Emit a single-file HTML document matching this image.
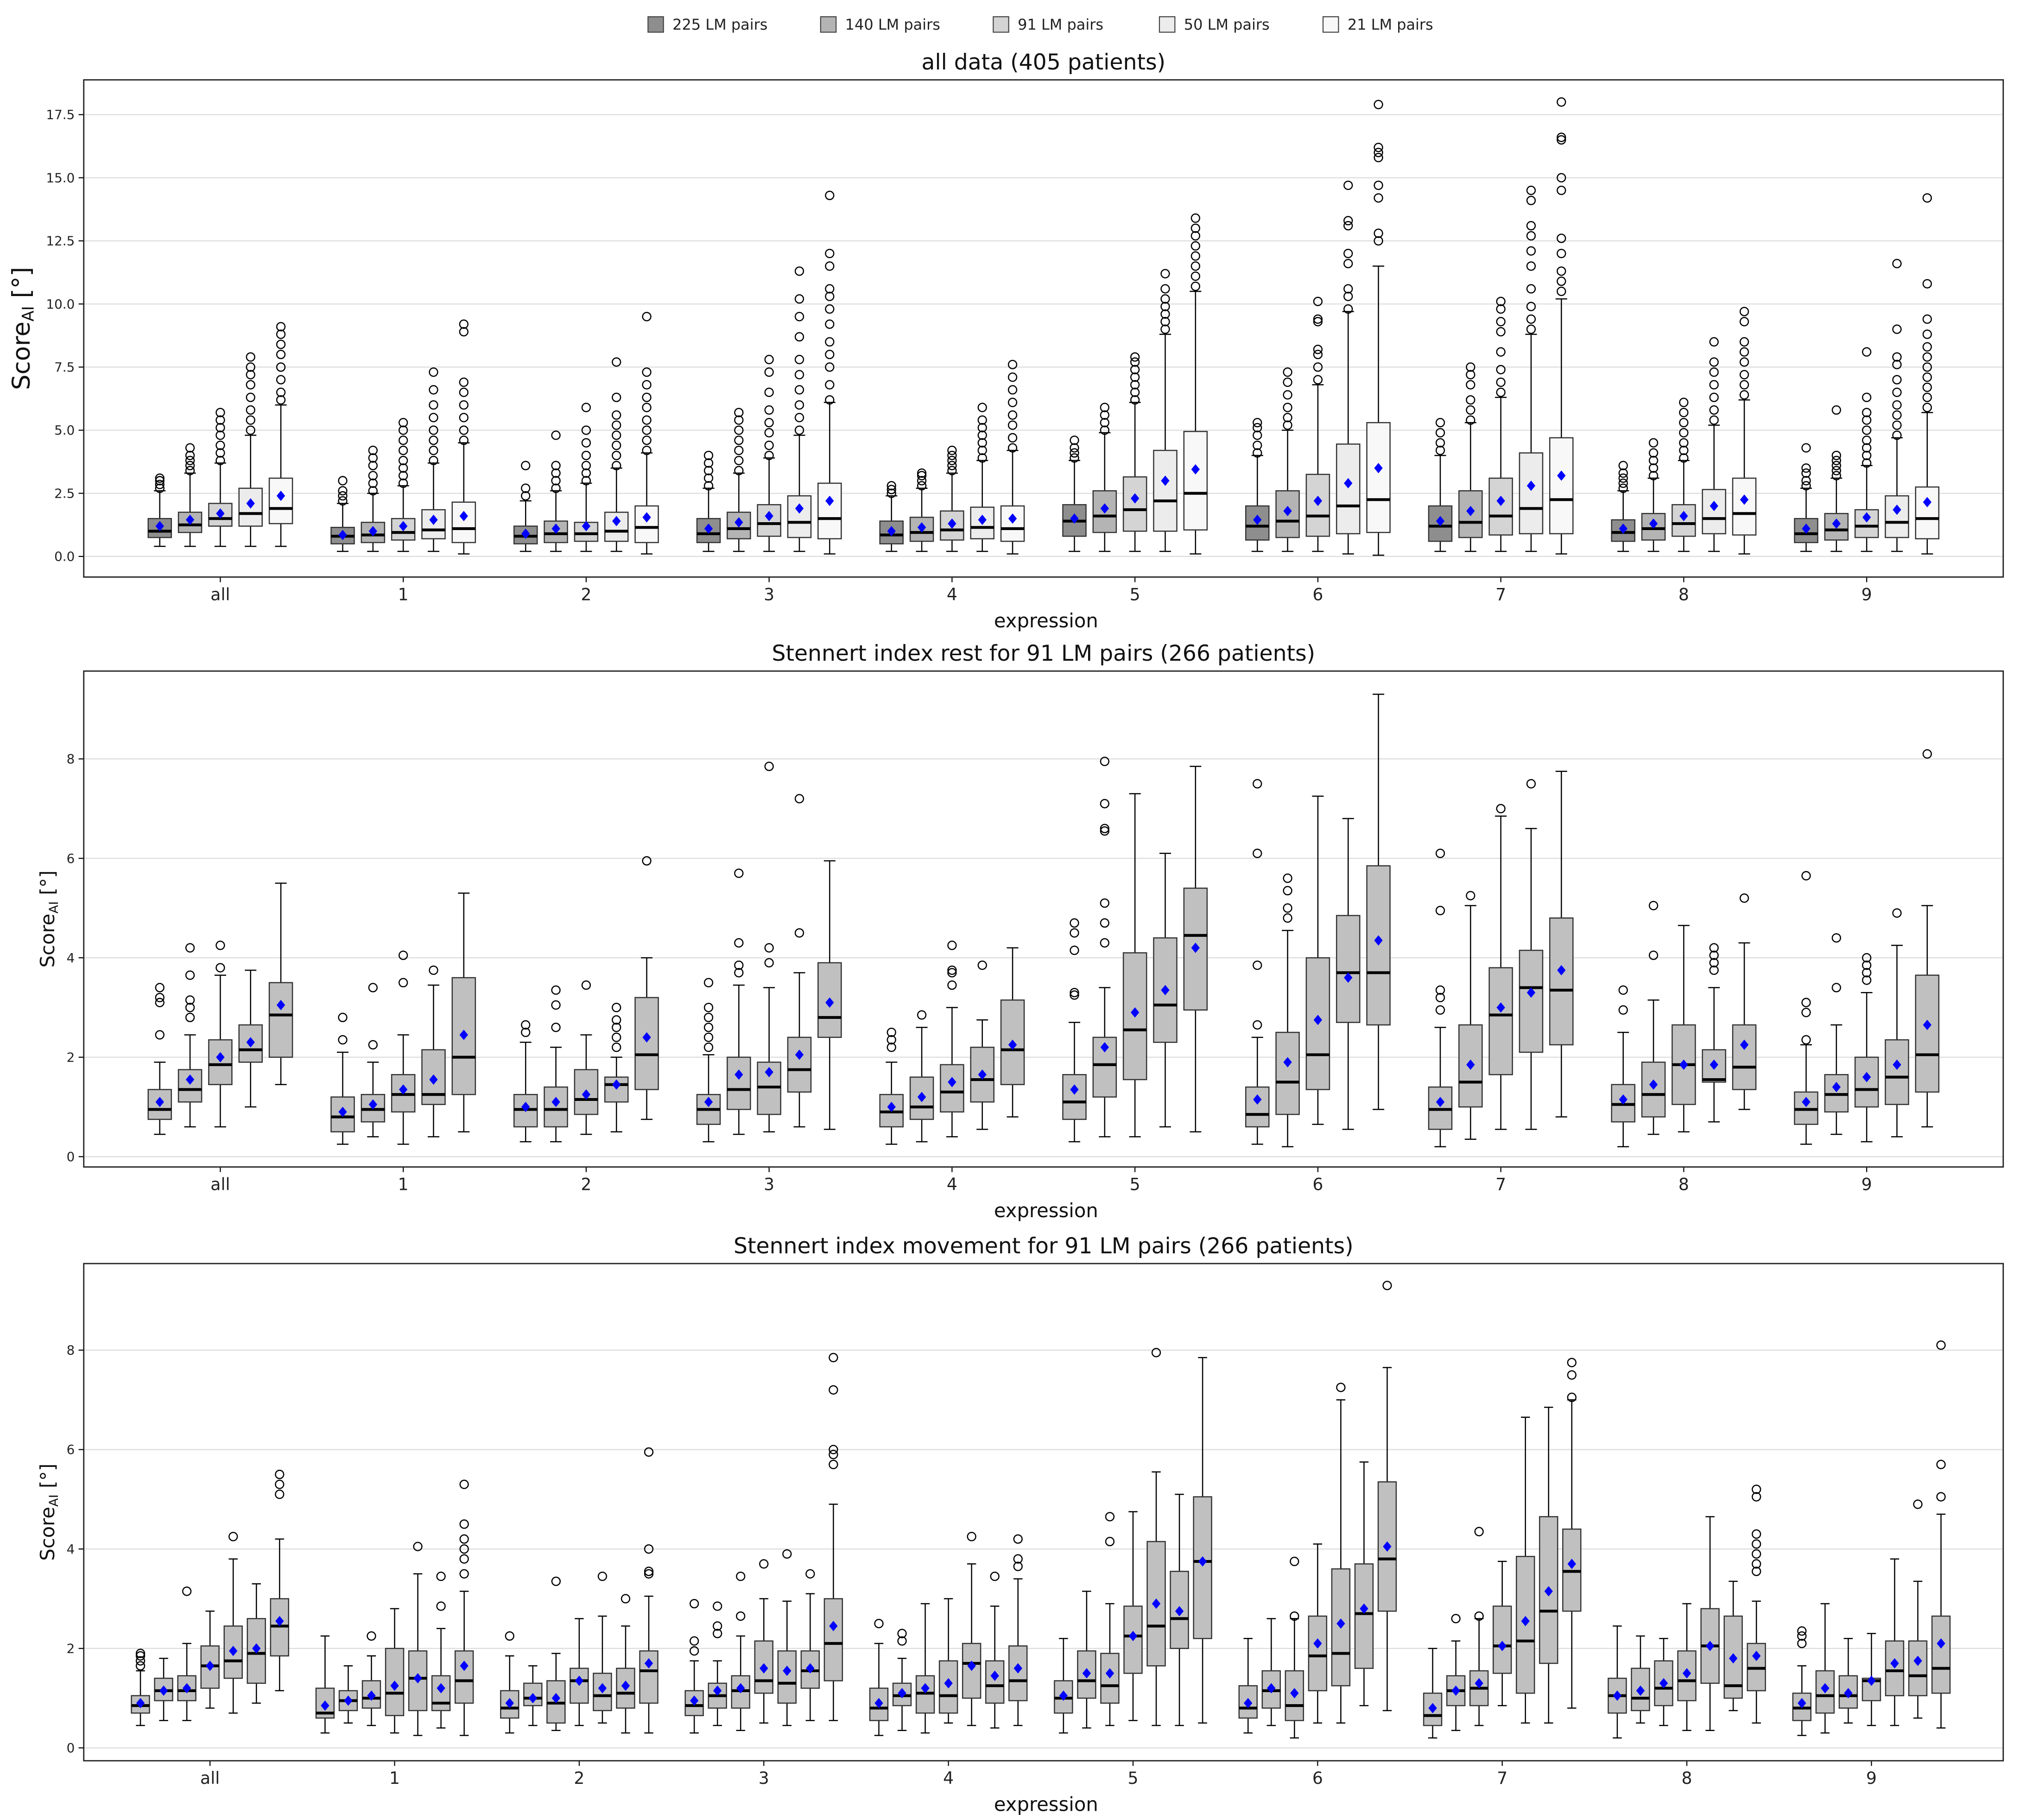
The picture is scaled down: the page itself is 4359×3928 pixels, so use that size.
<!DOCTYPE html>
<html><head><meta charset="utf-8"><title>Score AI boxplots</title>
<style>html,body{margin:0;padding:0;background:#fff}svg{display:block}text{font-family:"DejaVu Sans","Liberation Sans",sans-serif}</style>
</head><body>
<svg id="chart" xmlns="http://www.w3.org/2000/svg" width="4359" height="3928" viewBox="0 0 1568 1413">
<rect x="0" y="0" width="1568" height="1413" fill="#fff"/>
<g id="legend"></g>
<g id="p1"></g>
<g id="p2"></g>
<g id="p3"></g>
</svg>
<script>
const categories = ["all","1","2","3","4","5","6","7","8","9"];
const legendLabels = ["225 LM pairs","140 LM pairs","91 LM pairs","50 LM pairs","21 LM pairs"];
const p1Ticks = [0,2.5,5,7.5,10,12.5,15,17.5];
const p2Ticks = [0,2,4,6,8];
const p3Ticks = [0,2,4,6,8];

// Panel 1: [group][series] values
const p1Q1 = [[0.75,0.95,1.2,1.2,1.3],[0.5,0.55,0.65,0.7,0.55],[0.5,0.55,0.6,0.6,0.55],[0.55,0.7,0.8,0.75,0.7],[0.5,0.6,0.65,0.7,0.6],[0.8,0.95,1.0,1.0,1.05],[0.65,0.75,0.8,0.9,0.95],[0.6,0.75,0.85,0.9,0.9],[0.6,0.65,0.8,0.9,0.85],[0.55,0.65,0.75,0.75,0.7]];
const p1Med = [[1.0,1.25,1.5,1.7,1.9],[0.8,0.85,0.95,1.05,1.1],[0.8,0.9,0.9,1.0,1.15],[0.9,1.1,1.3,1.35,1.5],[0.85,0.95,1.05,1.15,1.1],[1.4,1.6,1.85,2.2,2.5],[1.2,1.4,1.6,2.0,2.25],[1.2,1.35,1.6,1.9,2.25],[0.95,1.1,1.3,1.5,1.7],[0.9,1.05,1.2,1.35,1.5]];
const p1Q3 = [[1.5,1.75,2.1,2.7,3.1],[1.15,1.35,1.5,1.85,2.15],[1.2,1.4,1.35,1.75,2.0],[1.5,1.75,2.05,2.4,2.9],[1.4,1.55,1.8,1.95,2.0],[2.05,2.6,3.15,4.2,4.95],[2.0,2.6,3.25,4.45,5.3],[2.0,2.6,3.1,4.1,4.7],[1.45,1.7,2.05,2.65,3.1],[1.5,1.7,1.85,2.4,2.75]];
const p1Lo = [[0.4,0.4,0.4,0.4,0.4],[0.2,0.2,0.2,0.2,0.1],[0.2,0.2,0.2,0.2,0.1],[0.2,0.2,0.2,0.2,0.1],[0.2,0.2,0.2,0.2,0.1],[0.2,0.2,0.2,0.2,0.1],[0.2,0.2,0.2,0.1,0.05],[0.2,0.2,0.2,0.2,0.1],[0.2,0.2,0.2,0.2,0.1],[0.2,0.2,0.2,0.2,0.1]];
const p1Hi = [[2.6,3.3,3.7,4.8,6.0],[2.1,2.5,2.8,3.7,4.5],[2.2,2.6,2.9,3.5,4.1],[2.7,3.3,3.9,4.8,6.1],[2.4,2.7,3.3,3.8,4.2],[3.8,4.9,6.1,8.8,10.5],[4.0,5.0,6.8,9.7,11.5],[4.0,5.3,6.3,8.8,10.2],[2.6,3.1,3.8,5.2,6.2],[2.7,3.1,3.6,4.7,5.7]];
const p1Mean = [[1.2,1.45,1.7,2.1,2.4],[0.85,1.0,1.2,1.45,1.6],[0.9,1.1,1.2,1.4,1.55],[1.1,1.35,1.6,1.9,2.2],[1.0,1.15,1.3,1.45,1.5],[1.5,1.9,2.3,3.0,3.45],[1.45,1.8,2.2,2.9,3.5],[1.4,1.8,2.2,2.8,3.2],[1.1,1.3,1.6,2.0,2.25],[1.1,1.3,1.55,1.85,2.15]];
const p1Out = [
 [[2.7,2.85,3.0,3.1],[3.4,3.6,3.8,4.0,4.3],[3.8,4.1,4.4,4.8,5.1,5.4,5.7],[5.0,5.4,5.8,6.3,6.8,7.2,7.5,7.9],[6.2,6.5,7.0,7.5,8.0,8.4,8.8,9.1]],
 [[2.2,2.4,2.6,3.0],[2.6,2.9,3.2,3.6,3.9,4.2],[2.9,3.2,3.5,3.8,4.2,4.6,5.0,5.3],[3.8,4.2,4.6,5.0,5.5,6.0,6.6,7.3],[4.6,5.0,5.5,6.0,6.5,6.9,8.9,9.2]],
 [[2.4,2.7,3.6],[2.7,3.0,3.3,3.6,4.8],[3.0,3.3,3.6,4.0,4.5,5.0,5.9],[3.6,4.0,4.4,4.8,5.2,5.6,6.3,7.7],[4.2,4.6,5.0,5.4,5.9,6.3,6.8,7.3,9.5]],
 [[2.8,3.1,3.4,3.7,4.0],[3.4,3.8,4.2,4.6,5.0,5.4,5.7],[4.0,4.4,4.9,5.3,5.8,6.5,7.3,7.8],[5.0,5.5,6.0,6.6,7.2,7.8,8.7,9.5,10.2,11.3],[6.2,6.8,7.5,8.0,8.5,9.2,9.8,10.3,10.6,11.5,12.0,14.3]],
 [[2.5,2.65,2.8],[2.8,3.0,3.2,3.3],[3.4,3.6,3.8,4.0,4.2],[3.9,4.2,4.5,4.8,5.1,5.4,5.9],[4.3,4.7,5.2,5.6,6.1,6.6,7.1,7.6]],
 [[3.9,4.1,4.3,4.6],[5.0,5.3,5.6,5.9],[6.2,6.5,6.8,7.1,7.4,7.7,7.9],[9.0,9.3,9.6,9.9,10.2,10.6,11.2],[10.7,11.1,11.5,11.9,12.3,12.7,13.0,13.4]],
 [[4.1,4.4,4.8,5.1,5.3],[5.2,5.5,5.9,6.4,6.9,7.3],[7.0,7.5,8.0,8.2,9.3,9.4,10.1],[9.8,10.3,10.6,11.6,12.0,13.1,13.3,14.7],[12.5,12.8,14.2,14.7,15.8,16.0,16.2,17.9]],
 [[4.2,4.5,4.9,5.3],[5.4,5.8,6.2,6.8,7.2,7.5],[6.5,6.9,7.4,8.1,8.9,9.3,9.8,10.1],[9.0,9.4,9.9,10.6,11.5,12.1,12.7,13.1,14.1,14.5],[10.5,10.9,11.3,12.0,12.6,14.5,15.0,16.5,16.6,18.0]],
 [[2.7,2.9,3.1,3.3,3.6],[3.2,3.5,3.8,4.1,4.5],[3.9,4.2,4.5,4.9,5.3,5.7,6.1],[5.4,5.8,6.3,6.8,7.3,7.7,8.5],[6.4,6.8,7.2,7.7,8.1,8.5,9.3,9.7]],
 [[2.8,3.0,3.3,3.5,4.3],[3.2,3.4,3.6,3.8,4.0,5.8],[3.7,4.0,4.3,4.6,5.0,5.4,5.7,6.3,8.1],[4.8,5.2,5.6,6.0,6.5,7.0,7.6,7.9,9.0,11.6],[5.9,6.3,6.7,7.1,7.5,7.9,8.3,8.8,9.4,10.8,14.2]]
];

// Panel 2
const p2Q1 = [[0.75,1.1,1.45,1.9,2.0],[0.5,0.7,0.9,1.05,1.25],[0.6,0.6,0.85,1.1,1.35],[0.65,0.95,0.85,1.3,2.4],[0.6,0.75,0.9,1.1,1.45],[0.75,1.2,1.55,2.3,2.95],[0.6,0.85,1.35,2.7,2.65],[0.55,1.0,1.65,2.1,2.25],[0.7,0.8,1.05,1.5,1.35],[0.65,0.9,1.0,1.05,1.3]];
const p2Med = [[0.95,1.35,1.85,2.15,2.85],[0.8,0.95,1.25,1.25,2.0],[0.95,0.95,1.15,1.45,2.05],[0.95,1.35,1.4,1.75,2.8],[0.9,1.0,1.3,1.55,2.15],[1.1,1.85,2.55,3.05,4.45],[0.85,1.5,2.05,3.7,3.7],[0.95,1.5,2.85,3.4,3.35],[1.05,1.25,1.85,1.55,1.8],[0.95,1.25,1.35,1.6,2.05]];
const p2Q3 = [[1.35,1.75,2.35,2.65,3.5],[1.2,1.25,1.65,2.15,3.6],[1.25,1.4,1.75,1.6,3.2],[1.25,2.0,1.9,2.4,3.9],[1.25,1.6,1.85,2.2,3.15],[1.65,2.4,4.1,4.4,5.4],[1.4,2.5,4.0,4.85,5.85],[1.4,2.65,3.8,4.15,4.8],[1.45,1.9,2.65,2.15,2.65],[1.3,1.65,2.0,2.35,3.65]];
const p2Lo = [[0.45,0.6,0.6,1.0,1.45],[0.25,0.4,0.25,0.4,0.5],[0.3,0.3,0.45,0.5,0.75],[0.3,0.45,0.5,0.6,0.55],[0.25,0.3,0.4,0.55,0.8],[0.3,0.4,0.4,0.6,0.5],[0.25,0.2,0.65,0.55,0.95],[0.2,0.35,0.55,0.55,0.8],[0.2,0.45,0.5,0.7,0.95],[0.25,0.45,0.3,0.4,0.6]];
const p2Hi = [[1.9,2.45,3.65,3.75,5.5],[2.1,1.9,2.45,3.45,5.3],[2.3,2.2,2.45,2.0,4.0],[2.05,3.45,3.4,3.7,5.95],[1.9,2.6,3.0,2.75,4.2],[2.7,3.4,7.3,6.1,7.85],[2.4,4.55,7.25,6.8,9.3],[2.6,5.05,6.85,6.6,7.75],[2.5,3.15,4.65,3.4,4.3],[2.25,2.65,3.3,4.25,5.05]];
const p2Mean = [[1.1,1.55,2.0,2.3,3.05],[0.9,1.05,1.35,1.55,2.45],[1.0,1.1,1.25,1.45,2.4],[1.1,1.65,1.7,2.05,3.1],[1.0,1.2,1.5,1.65,2.25],[1.35,2.2,2.9,3.35,4.2],[1.15,1.9,2.75,3.6,4.35],[1.1,1.85,3.0,3.3,3.75],[1.15,1.45,1.85,1.85,2.25],[1.1,1.4,1.6,1.85,2.65]];
const p2Out = [
 [[2.45,3.1,3.2,3.4],[2.8,3.0,3.15,3.65,4.2],[3.8,4.25],[],[]],
 [[2.35,2.8],[2.25,3.4],[3.5,4.05],[3.75],[]],
 [[2.5,2.65],[2.6,3.05,3.35],[3.45],[2.2,2.4,2.6,2.75,3.0],[5.95]],
 [[2.2,2.4,2.6,2.8,3.0,3.5],[3.7,3.85,4.3,5.7],[3.9,4.2,7.85],[4.5,7.2],[]],
 [[2.2,2.35,2.5],[2.85],[3.45,3.7,3.75,4.25],[3.85],[]],
 [[3.25,3.3,4.15,4.5,4.7],[4.3,4.7,5.1,6.55,6.6,7.1,7.95],[],[],[]],
 [[2.65,3.85,6.1,7.5],[4.8,5.0,5.35,5.6],[],[],[]],
 [[2.95,3.2,3.35,4.95,6.1],[5.25],[7.0],[7.5],[]],
 [[2.95,3.35],[4.05,5.05],[],[3.75,3.9,4.05,4.2],[5.2]],
 [[2.35,2.9,3.1,5.65],[3.4,4.4],[3.55,3.7,3.85,4.0],[4.9],[8.1]]
];

// Panel 3 (7 series per group)
const p3Q1 = [[0.7,0.95,0.95,1.2,1.4,1.3,1.85],[0.6,0.75,0.8,0.65,0.75,0.75,0.9],[0.6,0.85,0.5,0.9,0.75,0.8,0.9],[0.65,0.8,0.8,1.1,0.9,1.2,1.35],[0.55,0.85,0.7,0.7,1.0,0.9,0.95],[0.7,1.0,0.9,1.5,1.65,2.0,2.2],[0.6,0.8,0.55,1.15,1.25,1.6,2.75],[0.45,0.85,0.85,1.5,1.1,1.7,2.75],[0.7,0.75,0.85,0.95,1.3,1.0,1.15],[0.55,0.7,0.8,0.95,1.05,1.05,1.1]];
const p3Med = [[0.85,1.15,1.15,1.65,1.75,1.9,2.45],[0.7,0.95,1.0,1.1,1.4,0.9,1.35],[0.8,1.0,0.9,1.35,1.05,1.1,1.55],[0.85,1.05,1.15,1.35,1.3,1.55,2.1],[0.8,1.05,1.1,1.05,1.7,1.25,1.35],[1.0,1.35,1.25,2.25,2.45,2.6,3.75],[0.8,1.15,0.85,1.85,1.9,2.7,3.8],[0.65,1.15,1.2,2.05,2.15,2.75,3.55],[1.05,1.0,1.2,1.35,2.05,1.25,1.6],[0.8,1.05,1.05,1.35,1.55,1.45,1.6]];
const p3Q3 = [[1.05,1.4,1.45,2.05,2.45,2.6,3.0],[1.2,1.15,1.35,2.0,1.95,1.45,1.95],[1.15,1.3,1.35,1.6,1.5,1.6,1.95],[1.15,1.3,1.45,2.15,1.95,1.95,3.0],[1.2,1.3,1.45,1.75,2.1,1.75,2.05],[1.35,1.95,1.9,2.85,4.15,3.55,5.05],[1.25,1.55,1.55,2.65,3.6,3.7,5.35],[1.1,1.45,1.55,2.85,3.85,4.65,4.4],[1.4,1.6,1.75,1.95,2.8,2.65,2.1],[1.1,1.55,1.45,1.4,2.15,2.15,2.65]];
const p3Lo = [[0.45,0.55,0.55,0.8,0.7,0.9,1.15],[0.3,0.5,0.45,0.3,0.25,0.4,0.25],[0.3,0.45,0.35,0.45,0.5,0.3,0.3],[0.3,0.45,0.35,0.5,0.45,0.55,0.55],[0.25,0.35,0.3,0.5,0.45,0.4,0.45],[0.3,0.4,0.45,0.55,0.45,0.45,0.5],[0.3,0.45,0.2,0.5,0.5,0.85,0.75],[0.2,0.35,0.45,0.85,0.5,0.5,0.8],[0.2,0.5,0.45,0.35,0.35,0.75,0.5],[0.25,0.3,0.5,0.45,0.45,0.6,0.4]];
const p3Hi = [[1.55,1.8,2.1,2.75,3.8,3.3,4.2],[2.25,1.65,1.85,2.8,3.5,2.4,3.15],[1.85,1.65,1.9,2.6,2.65,2.45,3.05],[1.75,1.75,2.25,3.0,2.95,3.1,4.9],[2.1,1.8,2.9,3.0,3.7,2.85,3.4],[2.2,3.15,2.9,4.75,5.55,5.1,7.85],[2.2,2.6,2.6,4.1,7.0,5.75,7.65],[2.0,2.15,2.6,3.75,6.65,6.85,7.0],[2.45,2.25,2.2,2.9,4.65,3.35,2.95],[1.65,2.9,2.2,2.3,3.8,3.35,4.7]];
const p3Mean = [[0.9,1.15,1.2,1.65,1.95,2.0,2.55],[0.85,0.95,1.05,1.25,1.4,1.2,1.65],[0.9,1.0,1.0,1.35,1.2,1.25,1.7],[0.95,1.15,1.2,1.6,1.55,1.6,2.45],[0.9,1.1,1.2,1.3,1.65,1.45,1.6],[1.05,1.5,1.5,2.25,2.9,2.75,3.75],[0.9,1.2,1.1,2.1,2.5,2.8,4.05],[0.8,1.15,1.3,2.05,2.55,3.15,3.7],[1.05,1.15,1.3,1.5,2.05,1.8,1.85],[0.9,1.2,1.1,1.35,1.7,1.75,2.1]];
const p3Out = [
 [[1.65,1.75,1.85,1.9],[],[3.15],[],[4.25],[],[5.1,5.3,5.5]],
 [[],[],[2.25],[],[4.05],[2.85,3.45],[3.5,3.8,4.0,4.2,4.5,5.3]],
 [[2.25],[],[3.35],[],[3.45],[3.0],[3.5,3.55,4.0,5.95]],
 [[1.95,2.15,2.9],[2.3,2.45,2.85],[2.65,3.45],[3.7],[3.9],[3.5],[5.7,5.9,6.0,7.2,7.85]],
 [[2.5],[2.15,2.3],[],[],[4.25],[3.45],[3.65,3.8,4.2]],
 [[],[],[4.15,4.65],[],[7.95],[],[]],
 [[],[],[2.65,3.75],[],[7.25],[],[9.3]],
 [[],[2.6],[2.65,4.35],[],[],[],[7.05,7.5,7.75]],
 [[],[],[],[],[],[],[3.55,3.7,3.9,4.1,4.3,5.05,5.2]],
 [[2.1,2.25,2.35],[],[],[],[],[4.9],[5.05,5.7,8.1]]
];

const NS="http://www.w3.org/2000/svg";
function mk(tag,attrs,parent){const e=document.createElementNS(NS,tag);for(const k in attrs)e.setAttribute(k,attrs[k]);parent.appendChild(e);return e;}
const p1Fills=["#8e8e8e","#b4b4b4","#d4d4d4","#ececec","#f8f8f8"];

// Legend
const lg=document.getElementById('legend');
const legendX=[503,637,771,900,1027];
legendLabels.forEach((l,i)=>{
  const r=mk('rect',{x:legendX[i],y:13,width:12,height:12,fill:p1Fills[i],stroke:'#444','stroke-width':0.8},lg);
  
  
  const t=mk('text',{x:legendX[i]+19,y:23,'font-size':11.5,fill:'#222'},lg);
  t.textContent=l;
  
  
});

function panel(g,cfg){
  const {top,bottom,y0,pxPerUnit,ticks,tickFmt,title,c0,cStep,nSer,off,bw,q1,med,q3,lo,hi,mean,out,fills,ylx,ylfs}=cfg;
  const L=65,R=1555;
  const ys=v=>y0-v*pxPerUnit;
  const xs=(gi,si)=>c0+gi*cStep+(si-(nSer-1)/2)*off;
  ticks.forEach(t=>{
    const gl=mk('line',{x1:L,x2:R,y1:ys(t),y2:ys(t),stroke:'#dcdcdc','stroke-width':0.8},g);
    
    
    mk('line',{x1:L-4,x2:L,y1:ys(t),y2:ys(t),stroke:'#000','stroke-width':0.8},g);
    const tl=mk('text',{x:L-7,y:ys(t)+3.5,'font-size':10,'text-anchor':'end',fill:'#222'},g);
    tl.textContent=tickFmt(t);
    
    
  });
  for(let gi=0;gi<categories.length;gi++){
    for(let si=0;si<nSer;si++){
      const x=xs(gi,si),h=bw/2;
      const bg=mk('g',{},g);
      
      
      mk('line',{x1:x,x2:x,y1:ys(lo[gi][si]),y2:ys(q1[gi][si]),stroke:'#000','stroke-width':0.9},bg);
      mk('line',{x1:x,x2:x,y1:ys(q3[gi][si]),y2:ys(hi[gi][si]),stroke:'#000','stroke-width':0.9},bg);
      mk('line',{x1:x-h/2,x2:x+h/2,y1:ys(lo[gi][si]),y2:ys(lo[gi][si]),stroke:'#000','stroke-width':0.9},bg);
      mk('line',{x1:x-h/2,x2:x+h/2,y1:ys(hi[gi][si]),y2:ys(hi[gi][si]),stroke:'#000','stroke-width':0.9},bg);
      mk('rect',{x:x-h,y:ys(q3[gi][si]),width:bw,height:ys(q1[gi][si])-ys(q3[gi][si]),fill:fills[si],stroke:'#333','stroke-width':0.9},bg);
      mk('line',{x1:x-h,x2:x+h,y1:ys(med[gi][si]),y2:ys(med[gi][si]),stroke:'#000','stroke-width':2.2},bg);
      out[gi][si].forEach(v=>{
        const c=mk('circle',{cx:x,cy:ys(v),r:3.2,fill:'none',stroke:'#000','stroke-width':0.9},bg);
        
        
      });
      const m=mean[gi][si],my=ys(m);
      const d=mk('polygon',{points:`${x},${my-4} ${x+3.3},${my} ${x},${my+4} ${x-3.3},${my}`,fill:'#0000ff'},bg);
      
      
    }
    const cx=c0+gi*cStep;
    mk('line',{x1:cx,x2:cx,y1:bottom,y2:bottom+4,stroke:'#000','stroke-width':0.8},g);
    const xl=mk('text',{x:cx,y:bottom+18,'font-size':13,'text-anchor':'middle',fill:'#222'},g);
    xl.textContent=categories[gi];
    
    
  }
  const fr=mk('rect',{x:L,y:top,width:R-L,height:bottom-top,fill:'none',stroke:'#222','stroke-width':1},g);
  
  
  const tt=mk('text',{x:(L+R)/2,y:top-8,'font-size':17,'text-anchor':'middle',fill:'#111'},g);
  tt.textContent=title;
  
  
  const xt=mk('text',{x:(L+R)/2+2,y:bottom+39,'font-size':15,'text-anchor':'middle',fill:'#111'},g);
  xt.textContent='expression';
  
  
  const yc=(top+bottom)/2;
  const yt=mk('text',{x:ylx,y:yc,'font-size':ylfs,'text-anchor':'middle',fill:'#111',transform:`rotate(-90 ${ylx} ${yc})`},g);
  yt.innerHTML='Score<tspan font-size="'+(ylfs*0.65)+'" dy="3">AI</tspan><tspan dy="-3"> [°]</tspan>';
  
  
}
const f1=t=>t.toFixed(1), f0=t=>String(t);
panel(document.getElementById('p1'),{top:62,bottom:448,y0:432,pxPerUnit:19.6,ticks:p1Ticks,tickFmt:f1,title:'all data (405 patients)',c0:171,cStep:142,nSer:5,off:23.5,bw:18,q1:p1Q1,med:p1Med,q3:p1Q3,lo:p1Lo,hi:p1Hi,mean:p1Mean,out:p1Out,fills:p1Fills,ylx:23,ylfs:19});
panel(document.getElementById('p2'),{top:521,bottom:906,y0:898,pxPerUnit:38.6,ticks:p2Ticks,tickFmt:f0,title:'Stennert index rest for 91 LM pairs (266 patients)',c0:171,cStep:142,nSer:5,off:23.5,bw:18,q1:p2Q1,med:p2Med,q3:p2Q3,lo:p2Lo,hi:p2Hi,mean:p2Mean,out:p2Out,fills:Array(5).fill('#c0c0c0'),ylx:42,ylfs:15});
panel(document.getElementById('p3'),{top:981,bottom:1367,y0:1357,pxPerUnit:38.6,ticks:p3Ticks,tickFmt:f0,title:'Stennert index movement for 91 LM pairs (266 patients)',c0:163,cStep:143.3,nSer:7,off:18,bw:14,q1:p3Q1,med:p3Med,q3:p3Q3,lo:p3Lo,hi:p3Hi,mean:p3Mean,out:p3Out,fills:Array(7).fill('#c0c0c0'),ylx:42,ylfs:15});
</script>
</body></html>
